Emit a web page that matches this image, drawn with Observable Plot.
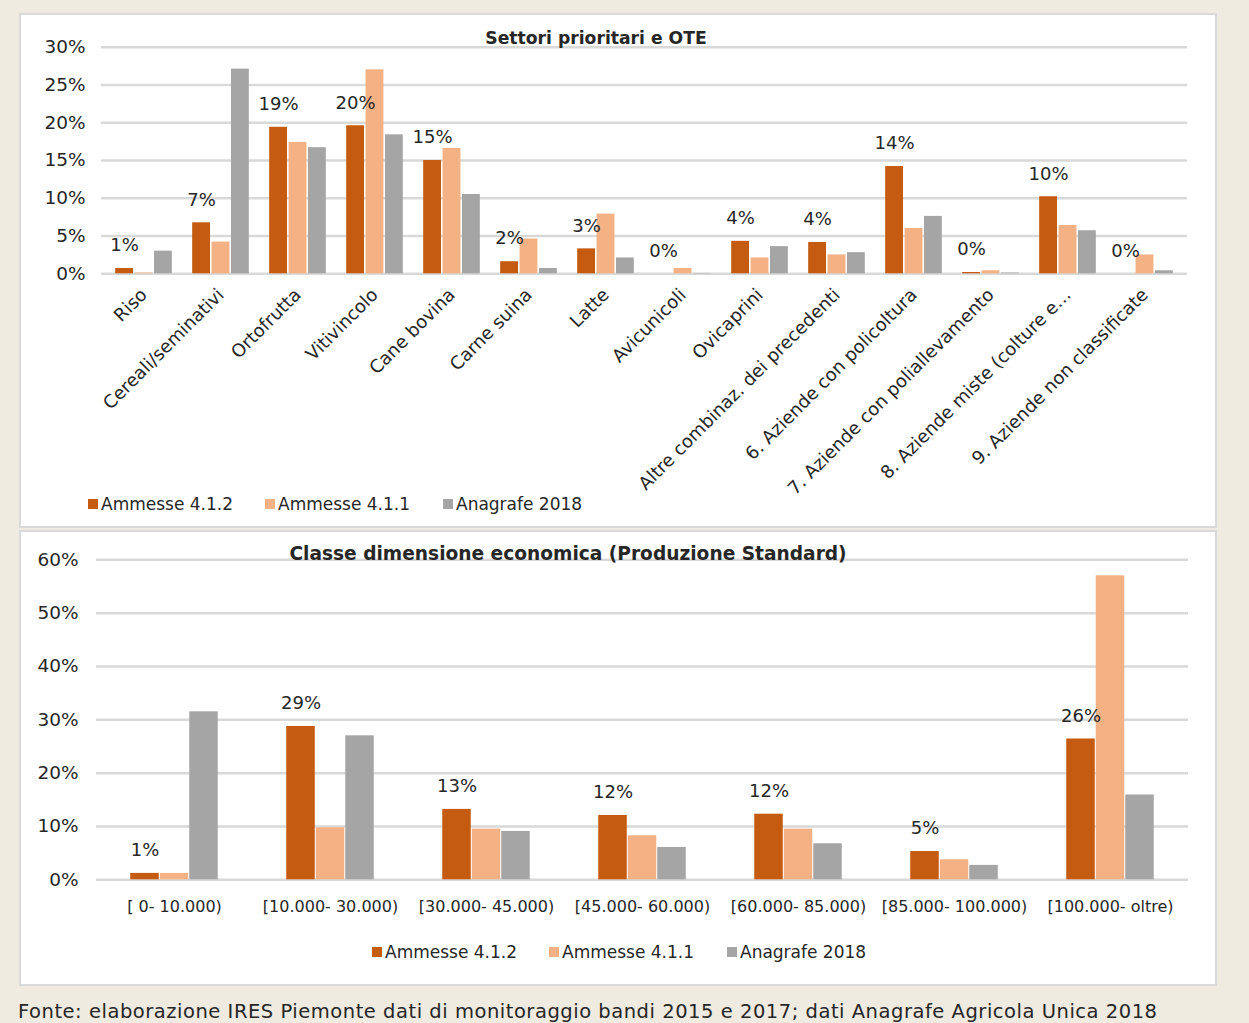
<!DOCTYPE html>
<html><head><meta charset="utf-8">
<script src="https://cdn.jsdelivr.net/npm/d3@7"></script>
<script src="https://cdn.jsdelivr.net/npm/@observablehq/plot@0.6"></script>
<style>
body{margin:0;background:#EFEBE1;width:1249px;height:1023px;position:relative;overflow:hidden;font-family:"DejaVu Sans",sans-serif;color:#262626;}
.panel{position:absolute;background:#fff;border:2px solid #D9D9D9;box-sizing:border-box;}
.abs{position:absolute;}
.title{position:absolute;font-weight:bold;white-space:nowrap;transform:translate(-50%,-50%);}
.legend{position:absolute;font-size:17px;white-space:nowrap;}
.legend span.item{position:absolute;display:flex;align-items:center;}
.legend i{display:inline-block;width:10px;height:10px;margin-right:3px;}
#foot{position:absolute;left:18px;top:1011px;transform:translateY(-50%);font-size:19.5px;letter-spacing:0.53px;white-space:nowrap;}
#err{position:absolute;left:30px;top:100px;color:red;font-size:14px;white-space:pre;z-index:10}
</style></head>
<body>
<div class="panel" style="left:19px;top:13px;width:1198px;height:515px"></div>
<div class="panel" style="left:19px;top:530px;width:1198px;height:456px"></div>
<div id="top" class="abs" style="left:0;top:0"></div>
<div id="bot" class="abs" style="left:0;top:530px"></div>
<div class="title" style="left:596px;top:37.5px;font-size:17.2px">Settori prioritari e OTE</div>
<div class="title" style="left:568px;top:553px;font-size:18.6px">Classe dimensione economica (Produzione Standard)</div>
<div class="legend" id="leg1" style="top:503px;left:0"></div>
<div class="legend" id="leg2" style="top:951px;left:0"></div>
<div id="foot">Fonte: elaborazione IRES Piemonte dati di monitoraggio bandi 2015 e 2017; dati Anagrafe Agricola Unica 2018</div>
<div id="err"></div>
<script>
// ---- data ----
const seriesNames = ["Ammesse 4.1.2", "Ammesse 4.1.1", "Anagrafe 2018"];
const seriesColors = ["#C55A11", "#F4B183", "#A5A5A5"];

const sectors = ["Riso","Cereali/seminativi","Ortofrutta","Vitivincolo","Cane bovina","Carne suina","Latte","Avicunicoli","Ovicaprini","Altre combinaz. dei precedenti","6. Aziende con policoltura","7. Aziende con poliallevamento","8. Aziende miste (colture e…","9. Aziende non classificate"];
const sectAmm412 = [0.7, 6.75, 19.4, 19.6, 15.0, 1.6, 3.3, 0, 4.3, 4.15, 14.2, 0.17, 10.2, 0];
const sectAmm411 = [0.1, 4.2, 17.4, 27.0, 16.6, 4.6, 7.9, 0.7, 2.1, 2.5, 6.0, 0.4, 6.4, 2.5];
const sectAnag   = [3.0, 27.1, 16.7, 18.4, 10.5, 0.7, 2.1, 0.05, 3.6, 2.8, 7.6, 0.1, 5.7, 0.4];
const sectTicks = [0, 5, 10, 15, 20, 25, 30];

const classes = ["[ 0- 10.000)","[10.000- 30.000)","[30.000- 45.000)","[45.000- 60.000)","[60.000- 85.000)","[85.000- 100.000)","[100.000- oltre)"];
const classAmm412 = [1.2, 28.75, 13.2, 12.06, 12.3, 5.3, 26.4];
const classAmm411 = [1.2, 9.75, 9.5, 8.25, 9.5, 3.75, 57.0];
const classAnag   = [31.5, 27.0, 9.06, 6.06, 6.75, 2.7, 15.9];
const classTicks = [0, 10, 20, 30, 40, 50, 60];

// ---- helpers ----
function tidy(cats, arrays) {
  const rows = [];
  cats.forEach((c, i) => arrays.forEach((a, k) => rows.push({cat: c, series: seriesNames[k], k, value: a[i]})));
  return rows;
}
const pct = d => d + "%";
const FONT = "'DejaVu Sans', sans-serif";

function chart(o) {
  const rows = tidy(o.cats, o.arrays);
  const band = (o.width - o.mL - o.mR) / o.cats.length;
  const inset = (band - o.barW) / 2;
  const marks = [
    Plot.ruleY(o.ticks, {stroke: "#D9D9D9", strokeWidth: 2.5})
  ];
  seriesNames.forEach((s, k) => {
    marks.push(Plot.barY(rows.filter(r => r.k === k), {
      x: "cat", y: "value", fill: seriesColors[k], dx: (k - 1) * o.barW,
      insetLeft: inset + 0.5, insetRight: inset + 0.5
    }));
  });
  marks.push(Plot.text(rows.filter(r => r.k === 0), {
    x: "cat", y: "value", text: d => Math.round(d.value) + "%", dx: -o.barW, dy: -23,
    fontSize: 18, fill: "#262626", textAnchor: "middle"
  }));
  marks.push(Plot.axisY({ticks: o.ticks, tickFormat: pct, tickSize: 0, tickPadding: o.yPad, fontSize: o.yFont, label: null}));
  marks.push(Plot.axisX({tickSize: 0, tickPadding: o.xPad, tickRotate: o.rotate, fontSize: o.xFont, label: null}));
  return Plot.plot({
    width: o.width, height: o.height, marginLeft: o.mL, marginRight: o.mR, marginTop: o.mT, marginBottom: o.mB,
    style: {background: "transparent", fontFamily: FONT, color: "#262626", overflow: "visible"},
    x: {domain: o.cats, padding: 0, label: null},
    y: {domain: [o.ticks[0], o.ticks[o.ticks.length - 1]], label: null},
    marks
  });
}

try {
  document.getElementById("top").append(chart({
    cats: sectors, arrays: [sectAmm412, sectAmm411, sectAnag], ticks: sectTicks,
    width: 1249, height: 500, mL: 101, mR: 62, mT: 46.7, mB: 226.7, barW: 19.4,
    rotate: -45, xFont: 18, yFont: 18.5, yPad: 16, xPad: 18
  }));
  document.getElementById("bot").append(chart({
    cats: classes, arrays: [classAmm412, classAmm411, classAnag], ticks: classTicks,
    width: 1249, height: 400, mL: 96, mR: 61, mT: 29.3, mB: 50.7, barW: 29.5,
    rotate: 0, xFont: 16, yFont: 18.5, yPad: 18, xPad: 21
  }));
} catch (e) { document.getElementById("err").textContent = e.stack; }

function legend(el, xs) {
  seriesNames.forEach((s, k) => {
    const it = document.createElement("span");
    it.className = "item";
    it.style.left = xs[k] + "px";
    it.style.top = "-9px";
    it.innerHTML = `<i style="background:${seriesColors[k]}"></i>${s}`;
    el.append(it);
  });
}
legend(document.getElementById("leg1"), [88, 265, 443]);
legend(document.getElementById("leg2"), [372, 549, 727]);
</script>
</body></html>
